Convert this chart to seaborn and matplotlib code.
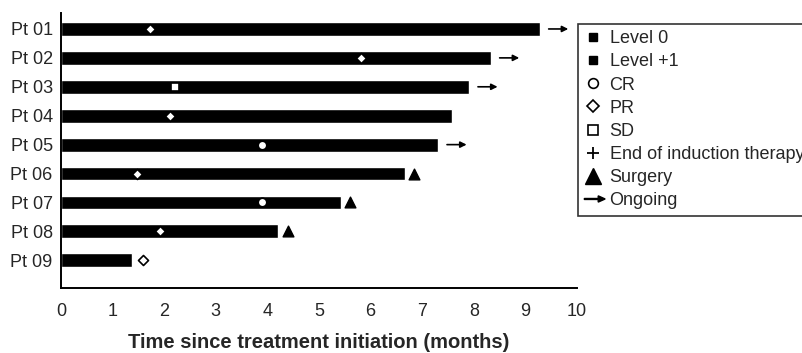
import numpy as np
import pandas as pd
import seaborn as sns
import matplotlib.pyplot as plt
from matplotlib.lines import Line2D
from matplotlib.patches import FancyArrow
from matplotlib.legend_handler import HandlerPatch

# swimmer plot data
patients = ["Pt 01", "Pt 02", "Pt 03", "Pt 04", "Pt 05", "Pt 06", "Pt 07", "Pt 08", "Pt 09"]
duration = [9.28, 8.33, 7.91, 7.58, 7.31, 6.67, 5.43, 4.20, 1.38]
resp_type = ["PR", "PR", "SD", "PR", "CR", "PR", "CR", "PR", "PR"]
resp_time = [1.72, 5.81, 2.21, 2.11, 3.90, 1.47, 3.90, 1.92, 1.59]
surgery_pts = ["Pt 06", "Pt 07", "Pt 08"]
surgery_time = [6.84, 5.60, 4.40]
ongoing_pts = ["Pt 01", "Pt 02", "Pt 03", "Pt 05"]
xticks = list(range(0, 11))

sns.set_style("white")
plt.rcParams['font.family'] = ['Liberation Sans', 'DejaVu Sans']

df = pd.DataFrame({"patient": patients, "duration": duration})

fig = plt.figure(figsize=(8.03, 3.53), dpi=100)
ax = fig.add_axes([0.076, 0.184, 0.6426, 0.779])

sns.barplot(data=df, x="duration", y="patient", color="black", orient="h",
            width=0.48, saturation=1, ax=ax)

ypos = {p: i for i, p in enumerate(patients)}

# response markers
mk = {"CR": "o", "PR": "D", "SD": "s"}
ms = {"CR": 38, "PR": 26, "SD": 40}
for p, t, r in zip(patients, resp_time, resp_type):
    ax.scatter(t, ypos[p], marker=mk[r], s=ms[r], facecolor="white",
               edgecolor="black", linewidth=1.2, zorder=5, clip_on=False)

# surgery
ax.scatter(surgery_time, [ypos[p] for p in surgery_pts], marker="^", s=60,
           color="black", zorder=5, clip_on=False)

# ongoing arrows
for p in ongoing_pts:
    end = duration[patients.index(p)]
    ax.annotate("", xy=(end + 0.55, ypos[p]), xytext=(end + 0.17, ypos[p]),
                arrowprops=dict(arrowstyle="-|>", color="black", lw=1.2,
                                mutation_scale=9, shrinkA=0, shrinkB=0),
                annotation_clip=False)

ax.set_xlim(0, 10)
ax.set_ylim(8.96, -0.55)
ax.set_xticks(xticks)
ax.set_xticklabels([str(t) for t in xticks], fontsize=13)
ax.tick_params(axis="x", direction="out", length=5, width=1.2, pad=6, color="black")
ax.tick_params(axis="y", length=0, pad=6, labelsize=13)
ax.set_ylabel("")
ax.set_xlabel("Time since treatment initiation (months)", fontsize=14.5,
              fontweight="bold", labelpad=9)
for s in ["top", "right"]:
    ax.spines[s].set_visible(False)
for s in ["left", "bottom"]:
    ax.spines[s].set_color("black")
    ax.spines[s].set_linewidth(1.4)


def legend_arrow(legend, orig_handle, xdescent, ydescent, width, height, fontsize):
    return FancyArrow(-xdescent, height / 2 - ydescent, width + 2, 0, width=0.7,
                      head_width=4.5, head_length=5, length_includes_head=True,
                      color="black")


handles = [
    Line2D([], [], ls="none", marker="s", ms=5.5, color="black"),
    Line2D([], [], ls="none", marker="s", ms=5.5, color="black"),
    Line2D([], [], ls="none", marker="o", ms=7, mfc="white", mec="black", mew=1.2),
    Line2D([], [], ls="none", marker="D", ms=6.5, mfc="white", mec="black", mew=1.2),
    Line2D([], [], ls="none", marker="s", ms=7, mfc="white", mec="black", mew=1.2),
    Line2D([], [], ls="none", marker="+", ms=9, color="black", mew=1.3),
    Line2D([], [], ls="none", marker="^", ms=11, color="black"),
    FancyArrow(0, 0, 1, 0, color="black"),
]
labels = ["Level 0", "Level +1", "CR", "PR", "SD", "End of induction therapy",
          "Surgery", "Ongoing"]
leg = fig.legend(handles, labels, loc="upper left",
                 bbox_to_anchor=(578 / 803, 1 - 24 / 353), bbox_transform=fig.transFigure,
                 borderaxespad=0, borderpad=0.35, fontsize=13, labelspacing=0.34,
                 handlelength=1.0, handletextpad=0.4, frameon=True, fancybox=False,
                 edgecolor="black",
                 handler_map={FancyArrow: HandlerPatch(patch_func=legend_arrow)})
leg.get_frame().set_linewidth(1.2)

plt.savefig("out.png", dpi=100)
